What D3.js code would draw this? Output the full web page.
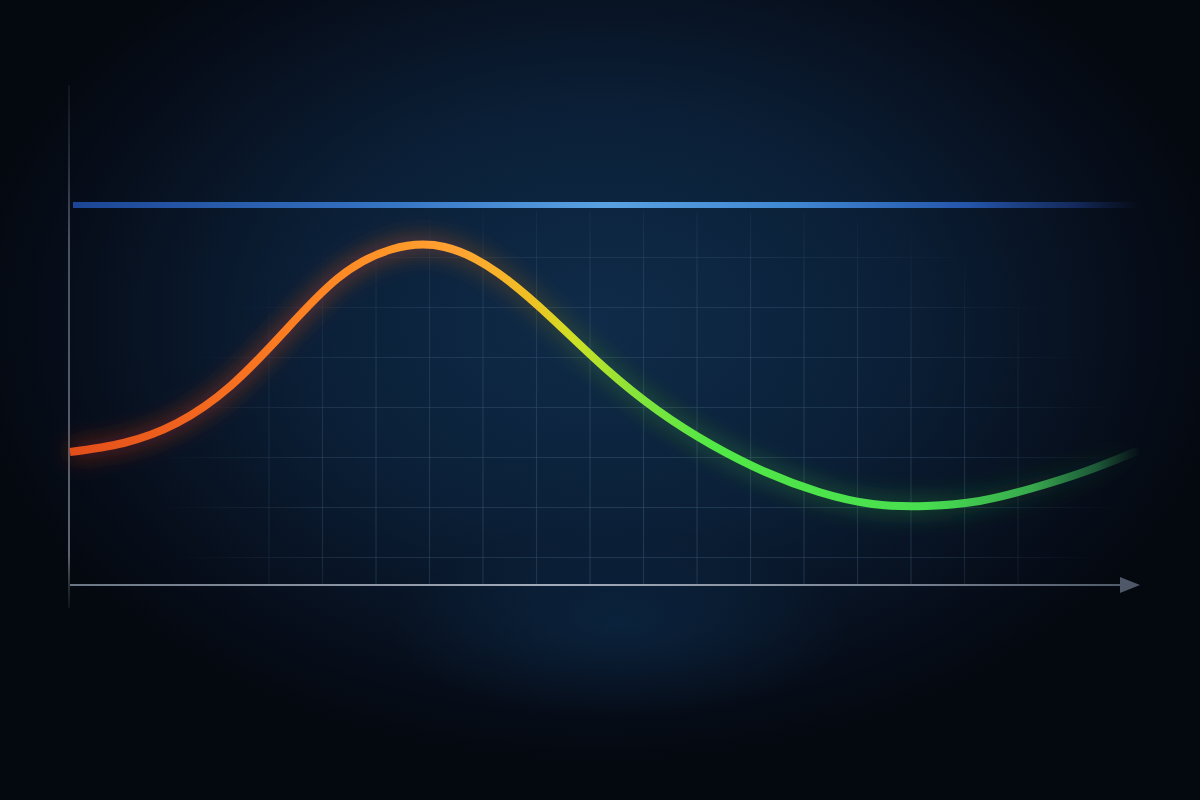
<!DOCTYPE html>
<html>
<head>
<meta charset="utf-8">
<script src="https://cdn.jsdelivr.net/npm/d3@7"></script>
<style>
  html, body { margin: 0; padding: 0; background: #050a14; }
  svg { display: block; }
</style>
</head>
<body>
<div id="chart"></div>
<script>
// curve samples, x in steps, y in percent of axis height
var xSteps = [0, 1, 2, 3, 4, 5, 6, 7, 8, 9, 10, 11, 12, 13, 14, 15, 16, 17, 18, 19, 20];
var yValues = [26.6, 28.4, 32.4, 39.8, 50.6, 61.3, 67.1, 67.6, 62.4, 53.4, 43.4, 34.8, 28.0, 22.6, 18.6, 16.2, 15.8, 16.8, 19.4, 22.8, 27.0];
var threshold = 76;
var gridX = [3.72, 4.72, 5.72, 6.72, 7.72, 8.72, 9.72, 10.72, 11.72, 12.72, 13.72, 14.72, 15.72, 16.72, 17.72];
var gridY = [5.5, 15.5, 25.5, 35.5, 45.5, 55.5, 65.5];

var svgWidth = 1200;
var svgHeight = 800;
var margin = {top: 85, right: 60, bottom: 215, left: 70};

var data = xSteps.map(function(d, i) { return {x: d, y: yValues[i]}; });

var xScale = d3.scaleLinear()
  .domain([0, 20])
  .range([margin.left, svgWidth - margin.right]);

var yScale = d3.scaleLinear()
  .domain([0, 100])
  .range([svgHeight - margin.bottom, margin.top]);

var svg = d3.select('#chart')
  .append('svg')
  .attr('width', svgWidth)
  .attr('height', svgHeight);

var defs = svg.append('defs');

// background glow
var bg = defs.append('radialGradient')
  .attr('id', 'bg')
  .attr('gradientUnits', 'userSpaceOnUse')
  .attr('cx', 600).attr('cy', 320).attr('r', 640)
  .attr('gradientTransform', 'translate(600,320) scale(1,0.7) translate(-600,-320)');
bg.append('stop').attr('offset', 0).attr('stop-color', '#0f2b49');
bg.append('stop').attr('offset', 0.45).attr('stop-color', '#0b2038');
bg.append('stop').attr('offset', 0.8).attr('stop-color', '#070f1d');
bg.append('stop').attr('offset', 1).attr('stop-color', '#04080f');

var floorGlow = defs.append('radialGradient')
  .attr('id', 'floorGlow')
  .attr('gradientUnits', 'userSpaceOnUse')
  .attr('cx', 620).attr('cy', 625).attr('r', 230)
  .attr('gradientTransform', 'translate(620,625) scale(1,0.4) translate(-620,-625)');
floorGlow.append('stop').attr('offset', 0).attr('stop-color', '#0d3052').attr('stop-opacity', 0.5);
floorGlow.append('stop').attr('offset', 1).attr('stop-color', '#0d3052').attr('stop-opacity', 0);

// grid fade mask
var gridFade = defs.append('radialGradient')
  .attr('id', 'gridFade')
  .attr('gradientUnits', 'userSpaceOnUse')
  .attr('cx', 640).attr('cy', 470).attr('r', 500)
  .attr('gradientTransform', 'translate(640,470) scale(1,0.62) translate(-640,-470)');
gridFade.append('stop').attr('offset', 0).attr('stop-color', '#fff');
gridFade.append('stop').attr('offset', 0.65).attr('stop-color', '#fff').attr('stop-opacity', 0.75);
gridFade.append('stop').attr('offset', 0.92).attr('stop-color', '#fff').attr('stop-opacity', 0.1);
gridFade.append('stop').attr('offset', 1).attr('stop-color', '#fff').attr('stop-opacity', 0);

defs.append('mask').attr('id', 'gridMask')
  .append('rect')
  .attr('width', svgWidth).attr('height', svgHeight)
  .attr('fill', 'url(#gridFade)');

// threshold gradient
var blueGrad = defs.append('linearGradient')
  .attr('id', 'blueGrad')
  .attr('gradientUnits', 'userSpaceOnUse')
  .attr('x1', xScale(0)).attr('x2', xScale(20)).attr('y1', 0).attr('y2', 0);
[[0, '#1b4594', 1], [0.3, '#3674c4', 1], [0.5, '#5aa2e2', 1], [0.68, '#3f86d2', 1],
 [0.84, '#2455aa', 1], [0.94, '#17306a', 0.8], [1, '#102050', 0]].forEach(function(s) {
  blueGrad.append('stop').attr('offset', s[0]).attr('stop-color', s[1]).attr('stop-opacity', s[2]);
});

// curve gradient
var lineGrad = defs.append('linearGradient')
  .attr('id', 'lineGrad')
  .attr('gradientUnits', 'userSpaceOnUse')
  .attr('x1', xScale(0)).attr('x2', xScale(20)).attr('y1', 0).attr('y2', 0);
[[0, '#e24e1a', 1], [0.1, '#f0621e', 1], [0.2, '#fc7c22', 1], [0.3, '#ff9628', 1], [0.36, '#ffa232', 1],
 [0.43, '#f0c024', 1], [0.47, '#cfe024', 1], [0.53, '#84e43a', 1], [0.6, '#52e846', 1],
 [0.8, '#48de50', 1], [0.9, '#3cb852', 0.9], [0.96, '#2f8e4c', 0.55], [1, '#2a7a48', 0]].forEach(function(s) {
  lineGrad.append('stop').attr('offset', s[0]).attr('stop-color', s[1]).attr('stop-opacity', s[2]);
});

// halo colour runs redder than the line itself
var haloGrad = defs.append('linearGradient')
  .attr('id', 'haloGrad')
  .attr('gradientUnits', 'userSpaceOnUse')
  .attr('x1', xScale(0)).attr('x2', xScale(20)).attr('y1', 0).attr('y2', 0);
[[0, '#c83010', 0.9], [0.3, '#e05418', 0.9], [0.42, '#c07010', 0.6], [0.5, '#50b020', 0.6],
 [0.8, '#2cb040', 0.7], [0.95, '#1c7030', 0.3], [1, '#1c7030', 0]].forEach(function(s) {
  haloGrad.append('stop').attr('offset', s[0]).attr('stop-color', s[1]).attr('stop-opacity', s[2]);
});

var glow = defs.append('filter')
  .attr('id', 'glow')
  .attr('x', '-10%').attr('y', '-30%').attr('width', '120%').attr('height', '160%');
glow.append('feGaussianBlur').attr('stdDeviation', 10);

var softGlow = defs.append('filter')
  .attr('id', 'softGlow')
  .attr('x', '-10%').attr('y', '-300%').attr('width', '120%').attr('height', '700%');
softGlow.append('feGaussianBlur').attr('stdDeviation', 4);

var axisFadeX = defs.append('linearGradient')
  .attr('id', 'axisFadeX')
  .attr('gradientUnits', 'userSpaceOnUse')
  .attr('x1', margin.left).attr('x2', 1140).attr('y1', 0).attr('y2', 0);
[[0, '#6c7584'], [0.45, '#a3acba'], [0.75, '#7c8696'], [1, '#4e5766']].forEach(function(s) {
  axisFadeX.append('stop').attr('offset', s[0]).attr('stop-color', s[1]);
});

var axisFadeY = defs.append('linearGradient')
  .attr('id', 'axisFadeY')
  .attr('gradientUnits', 'userSpaceOnUse')
  .attr('x1', 0).attr('x2', 0).attr('y1', 85).attr('y2', 608);
[[0, '#2a3240', 0.3], [0.3, '#4a5262', 1], [0.9, '#5c6472', 1], [1, '#3a4250', 0.2]].forEach(function(s) {
  axisFadeY.append('stop').attr('offset', s[0]).attr('stop-color', s[1]).attr('stop-opacity', s[2]);
});

// background
svg.append('rect').attr('width', svgWidth).attr('height', svgHeight).attr('fill', 'url(#bg)');
svg.append('rect').attr('width', svgWidth).attr('height', svgHeight).attr('fill', 'url(#floorGlow)');

// grid
var grid = svg.append('g').attr('class', 'grid').attr('mask', 'url(#gridMask)');

grid.selectAll('line.gx')
  .data(gridX)
  .enter()
  .append('line')
  .attr('class', 'gx')
  .attr('x1', function(d) { return xScale(d); })
  .attr('x2', function(d) { return xScale(d); })
  .attr('y1', yScale(threshold) + 6)
  .attr('y2', yScale(0))
  .attr('stroke', '#3a5672')
  .attr('stroke-opacity', 0.5)
  .attr('stroke-width', 1.2);

grid.selectAll('line.gy')
  .data(gridY)
  .enter()
  .append('line')
  .attr('class', 'gy')
  .attr('x1', xScale(0))
  .attr('x2', xScale(20))
  .attr('y1', function(d) { return yScale(d); })
  .attr('y2', function(d) { return yScale(d); })
  .attr('stroke', '#3a5672')
  .attr('stroke-opacity', 0.5)
  .attr('stroke-width', 1.2);

// threshold line
svg.append('line')
  .attr('x1', xScale(0) + 3).attr('x2', xScale(20))
  .attr('y1', yScale(threshold)).attr('y2', yScale(threshold))
  .attr('stroke', 'url(#blueGrad)')
  .attr('stroke-width', 10)
  .attr('stroke-opacity', 0.35)
  .attr('filter', 'url(#softGlow)');

svg.append('line')
  .attr('x1', xScale(0) + 3).attr('x2', xScale(20))
  .attr('y1', yScale(threshold)).attr('y2', yScale(threshold))
  .attr('stroke', 'url(#blueGrad)')
  .attr('stroke-width', 6);

// axes
svg.append('line')
  .attr('x1', 69).attr('x2', 69)
  .attr('y1', 85).attr('y2', 608)
  .attr('stroke', 'url(#axisFadeY)')
  .attr('stroke-width', 2);

svg.append('line')
  .attr('x1', margin.left).attr('x2', 1124)
  .attr('y1', yScale(0)).attr('y2', yScale(0))
  .attr('stroke', 'url(#axisFadeX)')
  .attr('stroke-width', 2.2);

svg.append('path')
  .attr('d', d3.line()([[1120, yScale(0) - 8], [1140, yScale(0)], [1120, yScale(0) + 8]]) + 'Z')
  .attr('fill', '#4e5868');

// curve
var line = d3.line()
  .x(function(d) { return xScale(d.x); })
  .y(function(d) { return yScale(d.y); })
  .curve(d3.curveNatural);

svg.append('path')
  .datum(data)
  .attr('d', line)
  .attr('fill', 'none')
  .attr('stroke', 'url(#haloGrad)')
  .attr('stroke-width', 20)
  .attr('stroke-opacity', 0.4)
  .attr('filter', 'url(#glow)');

svg.append('path')
  .datum(data)
  .attr('d', line)
  .attr('fill', 'none')
  .attr('stroke', 'url(#lineGrad)')
  .attr('stroke-width', 8)
  .attr('stroke-linecap', 'butt');
</script>
</body>
</html>
